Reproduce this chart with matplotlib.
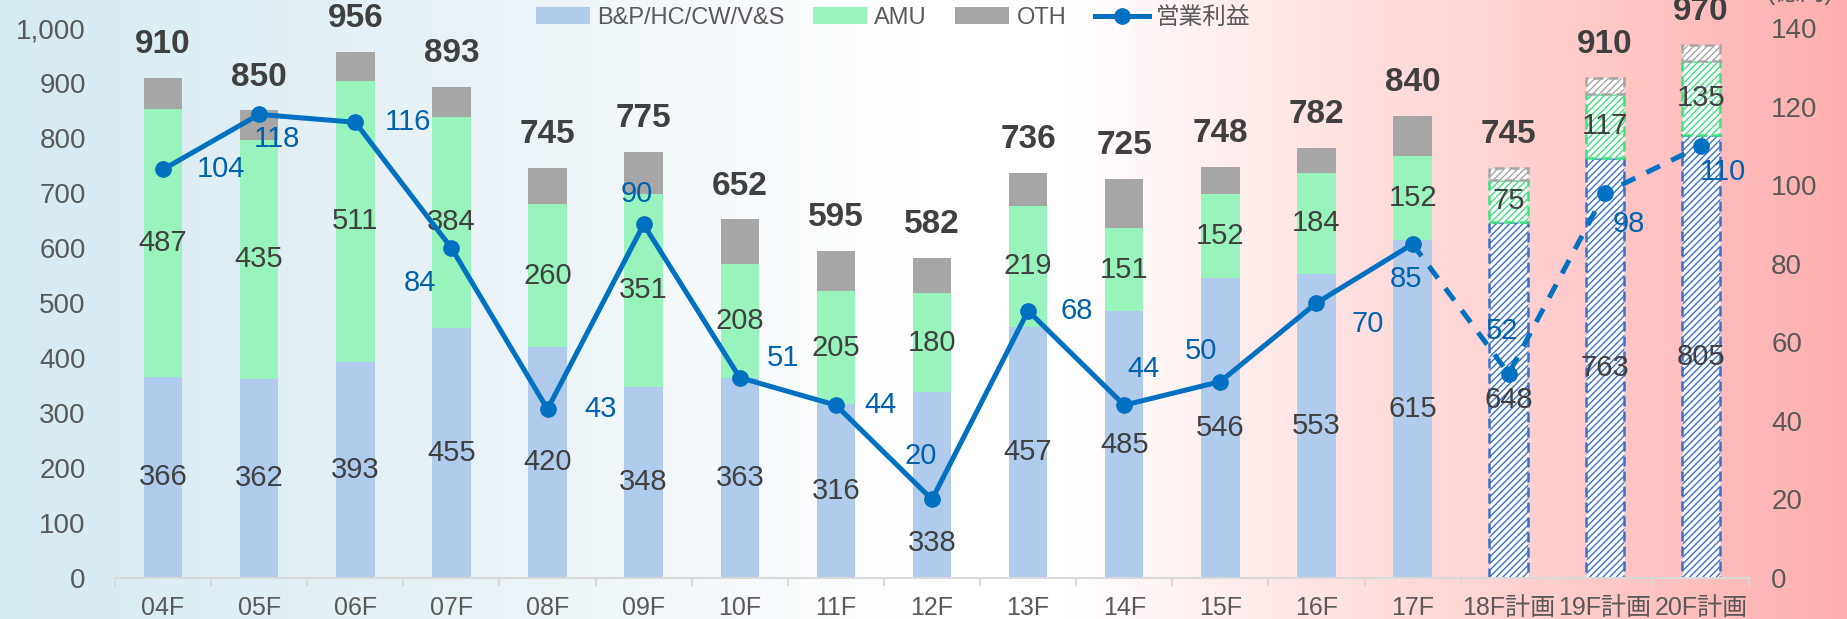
import numpy as np
import matplotlib
matplotlib.use("Agg")
import matplotlib.pyplot as plt
from matplotlib.colors import LinearSegmentedColormap
from matplotlib.lines import Line2D
from matplotlib.patches import Patch

plt.rcParams['font.family'] = ['Liberation Sans', 'Noto Sans CJK JP']
plt.rcParams['hatch.linewidth'] = 1.0

# data
years = ["04F", "05F", "06F", "07F", "08F", "09F", "10F", "11F", "12F",
         "13F", "14F", "15F", "16F", "17F", "18F計画", "19F計画", "20F計画"]
bp = [366, 362, 393, 455, 420, 348, 363, 316, 338,
      457, 485, 546, 553, 615, 648, 763, 805]
amu = [487, 435, 511, 384, 260, 351, 208, 205, 180,
       219, 151, 152, 184, 152, 75, 117, 135]
total = [910, 850, 956, 893, 745, 775, 652, 595, 582,
         736, 725, 748, 782, 840, 745, 910, 970]
profit = [104, 118, 116, 84, 43, 90, 51, 44, 20,
          68, 44, 50, 70, 85, 52, 98, 110]
n_plan = 3

# label offsets for the profit line (points)
lbl_off = [(42, 0), (13, -18), (38, 0), (-23, -25), (38, 0), (-5, 22),
           (31, 14), (32, 0), (-8, 31), (35, 0), (14, 26), (-14, 22),
           (37, -15), (-5, -25), (-5, 31), (17, -22), (16, -19)]
# the 12F B&P label sits lower to stay clear of the line
bp_lbl_dy = [0] * 8 + [-42] + [0] * 8

c_bp, c_amu, c_oth = "#b0cbeb", "#98f3bc", "#a6a6a6"
h_bp, h_amu, h_oth = "#3b70cc", "#3fe07e", "#a6a6a6"
c_line = "#0070c0"
c_txt = "#404040"
c_tick = "#595959"

bp = np.array(bp)
amu = np.array(amu)
total = np.array(total)
oth = total - bp - amu
x = np.arange(len(years))
act = x < len(years) - n_plan
plan = ~act

fig = plt.figure(figsize=(18.47, 6.19), dpi=100)

# gradient background
bg = fig.add_axes([0, 0, 1, 1], zorder=-10)
cmap = LinearSegmentedColormap.from_list("bg", [
    (0.0, "#d6eaf2"), (0.3, "#edf5f9"), (0.5, "#ffffff"), (0.58, "#ffffff"),
    (0.72, "#ffe3e3"), (0.86, "#ffcaca"), (1.0, "#ffafaf")])
bg.imshow(np.linspace(0, 1, 512).reshape(1, -1), aspect='auto', cmap=cmap,
          extent=[0, 1, 0, 1])
bg.axis('off')

ax = fig.add_axes([115 / 1847, 1 - 578 / 619, (1749 - 115) / 1847, 550 / 619])
ax.set_facecolor('none')
w = 0.4

# actual bars
ax.bar(x[act], bp[act], w, color=c_bp)
ax.bar(x[act], amu[act], w, bottom=bp[act], color=c_amu)
ax.bar(x[act], oth[act], w, bottom=(bp + amu)[act], color=c_oth)

# plan bars
ls = (0, (4, 2))
ax.bar(x[plan], bp[plan], w, facecolor='white', edgecolor=h_bp,
       hatch='/////', linewidth=1.8, linestyle=ls)
ax.bar(x[plan], amu[plan], w, bottom=bp[plan], facecolor='white',
       edgecolor=h_amu, hatch='/////', linewidth=1.8, linestyle=ls)
ax.bar(x[plan], oth[plan], w, bottom=(bp + amu)[plan], facecolor='white',
       edgecolor=h_oth, hatch='/////', linewidth=1.8, linestyle=ls)

for i in range(len(years)):
    ax.annotate(str(bp[i]), (x[i], bp[i] / 2), xytext=(0, bp_lbl_dy[i]),
                textcoords='offset points', ha='center', va='center',
                fontsize=21, color=c_txt)
    ax.text(x[i], bp[i] + amu[i] / 2, str(amu[i]), ha='center', va='center',
            fontsize=21, color=c_txt)
    ax.annotate(str(total[i]), (x[i], total[i]), xytext=(0, 24),
                textcoords='offset points', ha='center', va='center',
                fontsize=24, fontweight='bold', color=c_txt,
                annotation_clip=False)

ax.set_xlim(-0.5, len(years) - 0.5)
ax.set_ylim(0, 1000)
ax.set_yticks(range(0, 1001, 100))
ax.set_yticklabels([f"{v:,}" for v in range(0, 1001, 100)])
ax.set_xticks(x)
ax.set_xticklabels(years)
ax.set_xticks(np.arange(-0.5, len(years), 1), minor=True)
ax.tick_params(axis='x', which='major', length=0, pad=13, labelsize=18,
               labelcolor=c_tick)
ax.tick_params(axis='x', which='minor', length=6, color="#d9d9d9", width=1.5)
ax.tick_params(axis='y', length=0, pad=21, labelsize=20, labelcolor=c_tick)
for s in ['top', 'right', 'left']:
    ax.spines[s].set_visible(False)
ax.spines['bottom'].set_color("#d9d9d9")
ax.spines['bottom'].set_linewidth(1.5)

# profit line on right axis
ax2 = ax.twinx()
ax2.set_ylim(0, 140)
ax2.set_yticks(range(0, 141, 20))
ax2.tick_params(axis='y', length=0, pad=16, labelsize=20, labelcolor=c_tick)
for s in ax2.spines.values():
    s.set_visible(False)
na = act.sum()
ax2.plot(x[:na], profit[:na], color=c_line, lw=3.6, marker='o', ms=11,
         solid_capstyle='round')
ax2.plot(x[na - 1:], profit[na - 1:], color=c_line, lw=3.6, ls=(0, (3, 2.5)),
         marker='o', ms=11, markevery=list(range(1, n_plan + 1)))
for i in range(len(years)):
    dx, dy = lbl_off[i]
    ax2.annotate(str(profit[i]), (x[i], profit[i]), xytext=(dx, dy),
                 textcoords='offset points', ha='center', va='center',
                 fontsize=21, color="#0062ad")

fig.text(1800 / 1847, 1 - 5 / 619, "(億円)", ha='center', va='bottom',
         fontsize=18, color=c_tick)

handles = [Patch(facecolor=c_bp), Patch(facecolor=c_amu), Patch(facecolor=c_oth),
           Line2D([], [], color=c_line, lw=3.6, marker='o', ms=11)]
fig.legend(handles, ["B&P/HC/CW/V&S", "AMU", "OTH", "営業利益"],
           loc='center', bbox_to_anchor=(893 / 1847, 1 - 18 / 619), ncol=4,
           frameon=False, fontsize=17, handlelength=2.3, columnspacing=1.2,
           handletextpad=0.3, labelcolor=c_tick)

fig.savefig("out.png", dpi=100)
